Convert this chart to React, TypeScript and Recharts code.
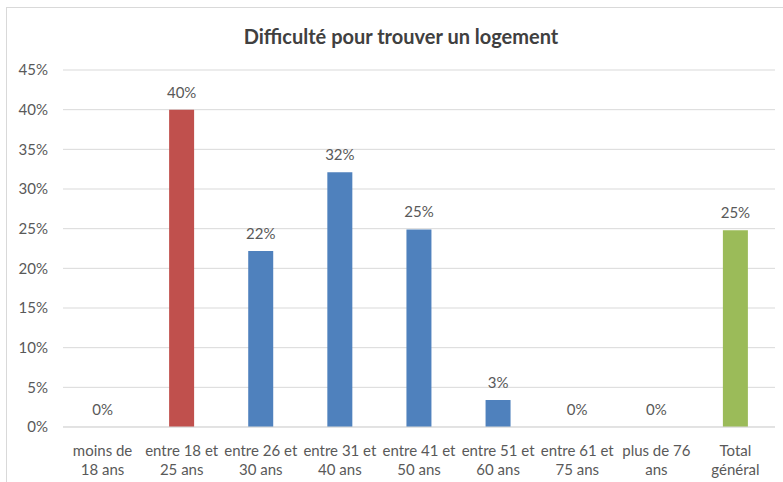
import React from "react";
import { ComposedChart, Bar, Line, XAxis, YAxis, CartesianGrid, Cell, LabelList } from "recharts";

const categories = [
  "moins de|18 ans",
  "entre 18 et|25 ans",
  "entre 26 et|30 ans",
  "entre 31 et|40 ans",
  "entre 41 et|50 ans",
  "entre 51 et|60 ans",
  "entre 61 et|75 ans",
  "plus de 76|ans",
  "Total|général",
];
const values = [0, 0.4, 0.222, 0.321, 0.249, 0.034, 0, 0, 0.248];
const yTicks = [0, 0.05, 0.1, 0.15, 0.2, 0.25, 0.3, 0.35, 0.4, 0.45];
const palette = ["#4F81BD", "#C0504D", "#4F81BD", "#4F81BD", "#4F81BD", "#4F81BD", "#4F81BD", "#4F81BD", "#9BBB59"];

const data = categories.map((c, i) => ({ name: c, value: values[i] }));

const FONT = "Lato, 'Open Sans', sans-serif";
const TXT = "#595959";

const XTick = (props: any) => {
  const { x, y, payload } = props;
  const lines = String(payload.value).split("|");
  return (
    <g transform={`translate(${x},${y})`}>
      {lines.map((l, i) => (
        <text key={i} x={0} y={i * 19} dy={21} textAnchor="middle" fill={TXT} fontSize={15} fontFamily={FONT}>
          {l}
        </text>
      ))}
    </g>
  );
};

const fmt = (v: number) => `${Math.round(v * 100)}%`;

export default function App() {
  return (
    <div style={{ position: "absolute", left: 0, top: 0, width: 783, height: 482, background: "#fff" }}>
      <div style={{ position: "absolute", left: 6, top: 7, width: 790, height: 490, border: "1px solid #d9d9d9", boxSizing: "border-box" }} />
      <div style={{ position: "absolute", left: 0, top: 24, width: 802, textAlign: "center", fontFamily: FONT, fontWeight: 700, fontSize: 20, color: "#404040" }}>
        Difficulté pour trouver un logement
      </div>
      <div style={{ position: "absolute", left: 0, top: 0 }}>
        <ComposedChart width={783} height={482} data={data} margin={{ top: 70, right: 8, bottom: 0, left: 0 }}>
          <CartesianGrid vertical={false} stroke="#d9d9d9" />
          <XAxis dataKey="name" height={55} tick={<XTick />} tickLine={false} axisLine={{ stroke: "#d9d9d9" }} interval={0} />
          <YAxis
            width={63}
            domain={[0, 0.45]}
            ticks={yTicks}
            tickFormatter={fmt}
            tickLine={false}
            axisLine={false}
            tickMargin={9}
            tick={{ fill: TXT, fontSize: 15, fontFamily: FONT }}
          />
          <Bar dataKey="value" barSize={25} isAnimationActive={false}>
            {data.map((d, i) => (
              <Cell key={i} fill={palette[i]} />
            ))}
          </Bar>
          <Line dataKey="value" stroke="none" dot={false} activeDot={false} isAnimationActive={false} legendType="none">
            <LabelList dataKey="value" position="top" offset={12} formatter={fmt} fill={TXT} fontSize={15} fontFamily={FONT} />
          </Line>
        </ComposedChart>
      </div>
    </div>
  );
}
